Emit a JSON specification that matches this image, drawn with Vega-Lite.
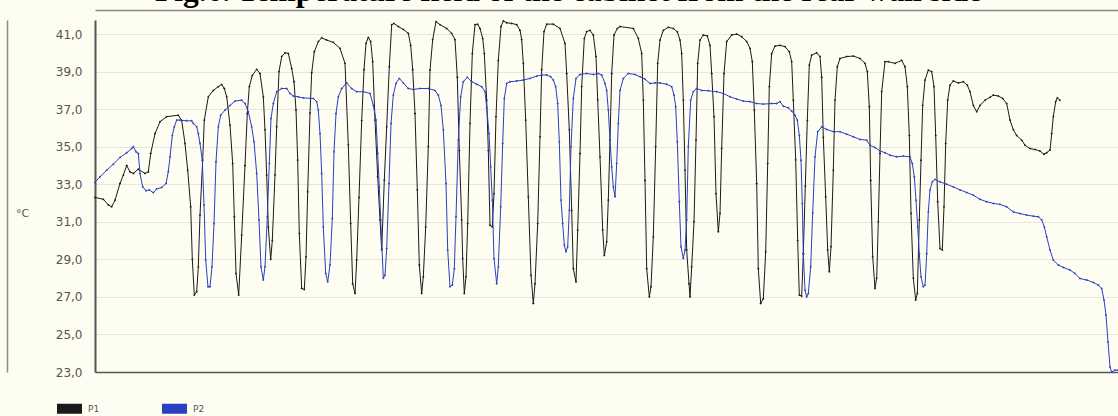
{
"$schema": "https://vega.github.io/schema/vega-lite/v6.json",
"width": 1023, "height": 352,
"autosize": {"type": "none"},
"padding": {"left": 95, "top": 20, "right": 0, "bottom": 44},
"background": "#fdfdf2",
"config": {
  "locale": {"number": {"decimal": ",", "thousands": ".", "grouping": [3], "currency": ["", ""]}},
  "view": {"stroke": null},
  "font": "DejaVu Sans"
},
"title": {"text": "Fig.6. Temperature field of the cabinet from the rear wall side", "font": "Liberation Serif", "fontSize": 31.5, "fontWeight": "bold", "color": "#000000", "anchor": "middle", "frame": "group", "dx": -38, "dy": 14, "baseline": "alphabetic", "offset": -8},
"data": {"values": [
{"s":"P1","t":0,"v":32.3},{"s":"P1","t":8.3,"v":32.2},{"s":"P1","t":13.3,"v":31.9},{"s":"P1","t":16.7,"v":31.8},{"s":"P1","t":20,"v":32.15},{"s":"P1","t":25,"v":33.04},{"s":"P1","t":28.3,"v":33.49},{"s":"P1","t":31.7,"v":34.0},{"s":"P1","t":35,"v":33.66},{"s":"P1","t":38.3,"v":33.58},{"s":"P1","t":43.3,"v":33.8},{"s":"P1","t":50,"v":33.58},{"s":"P1","t":53.3,"v":33.66},{"s":"P1","t":55.7,"v":34.64},{"s":"P1","t":60,"v":35.7},{"s":"P1","t":65,"v":36.33},{"s":"P1","t":71.7,"v":36.6},{"s":"P1","t":83.3,"v":36.68},{"s":"P1","t":86.7,"v":36.4},{"s":"P1","t":90,"v":35.17},{"s":"P1","t":92.7,"v":33.75},{"s":"P1","t":95.7,"v":31.8},{"s":"P1","t":97.3,"v":29.0},{"s":"P1","t":99.3,"v":27.1},{"s":"P1","t":101.7,"v":27.27},{"s":"P1","t":103.3,"v":28.6},{"s":"P1","t":105,"v":31.36},{"s":"P1","t":107.7,"v":34.29},{"s":"P1","t":109.3,"v":36.42},{"s":"P1","t":113.3,"v":37.66},{"s":"P1","t":118.3,"v":38.0},{"s":"P1","t":123.3,"v":38.2},{"s":"P1","t":126.7,"v":38.32},{"s":"P1","t":129.3,"v":38.1},{"s":"P1","t":131.7,"v":37.66},{"s":"P1","t":135,"v":36.15},{"s":"P1","t":137.7,"v":34.1},{"s":"P1","t":139.3,"v":31.27},{"s":"P1","t":141,"v":28.25},{"s":"P1","t":143.7,"v":27.1},{"s":"P1","t":146.7,"v":30.29},{"s":"P1","t":150,"v":34.0},{"s":"P1","t":152.3,"v":36.77},{"s":"P1","t":154.3,"v":38.2},{"s":"P1","t":157.3,"v":38.8},{"s":"P1","t":161.7,"v":39.12},{"s":"P1","t":165,"v":38.9},{"s":"P1","t":168.3,"v":37.66},{"s":"P1","t":170,"v":35.9},{"s":"P1","t":171.7,"v":33.49},{"s":"P1","t":173.3,"v":30.73},{"s":"P1","t":175.7,"v":29.0},{"s":"P1","t":177.3,"v":30.0},{"s":"P1","t":180,"v":33.5},{"s":"P1","t":181.7,"v":36.06},{"s":"P1","t":184,"v":39.0},{"s":"P1","t":186.7,"v":39.8},{"s":"P1","t":190,"v":40.0},{"s":"P1","t":193.3,"v":39.97},{"s":"P1","t":196.7,"v":39.17},{"s":"P1","t":199,"v":38.46},{"s":"P1","t":201,"v":36.95},{"s":"P1","t":202.7,"v":34.29},{"s":"P1","t":204.3,"v":30.38},{"s":"P1","t":206.7,"v":27.45},{"s":"P1","t":209.3,"v":27.4},{"s":"P1","t":211,"v":29.13},{"s":"P1","t":212.7,"v":32.6},{"s":"P1","t":215,"v":36.8},{"s":"P1","t":216.7,"v":38.94},{"s":"P1","t":219.3,"v":40.06},{"s":"P1","t":223.3,"v":40.6},{"s":"P1","t":226.7,"v":40.8},{"s":"P1","t":231.7,"v":40.68},{"s":"P1","t":238.3,"v":40.56},{"s":"P1","t":245,"v":40.24},{"s":"P1","t":250,"v":39.44},{"s":"P1","t":253.3,"v":35.1},{"s":"P1","t":255.7,"v":30.9},{"s":"P1","t":257.7,"v":27.7},{"s":"P1","t":260,"v":27.18},{"s":"P1","t":261.7,"v":28.96},{"s":"P1","t":264,"v":32.3},{"s":"P1","t":266.7,"v":36.4},{"s":"P1","t":269,"v":39.1},{"s":"P1","t":271,"v":40.5},{"s":"P1","t":273.3,"v":40.82},{"s":"P1","t":275.7,"v":40.6},{"s":"P1","t":277.7,"v":39.53},{"s":"P1","t":280,"v":36.42},{"s":"P1","t":282.7,"v":33.4},{"s":"P1","t":285,"v":31.1},{"s":"P1","t":286.7,"v":29.5},{"s":"P1","t":289.3,"v":33.22},{"s":"P1","t":291.7,"v":36.06},{"s":"P1","t":294.3,"v":39.26},{"s":"P1","t":296.7,"v":41.5},{"s":"P1","t":299,"v":41.57},{"s":"P1","t":303.3,"v":41.4},{"s":"P1","t":308.3,"v":41.25},{"s":"P1","t":313.3,"v":41.04},{"s":"P1","t":315.7,"v":40.4},{"s":"P1","t":317.7,"v":39.1},{"s":"P1","t":320,"v":36.77},{"s":"P1","t":322.3,"v":32.7},{"s":"P1","t":324.3,"v":28.7},{"s":"P1","t":326.7,"v":27.18},{"s":"P1","t":328.3,"v":28.07},{"s":"P1","t":330.7,"v":30.73},{"s":"P1","t":333.3,"v":35.0},{"s":"P1","t":335,"v":39.08},{"s":"P1","t":337.7,"v":40.7},{"s":"P1","t":341,"v":41.66},{"s":"P1","t":345,"v":41.5},{"s":"P1","t":351.7,"v":41.3},{"s":"P1","t":356.7,"v":41.04},{"s":"P1","t":360,"v":40.7},{"s":"P1","t":362.3,"v":38.7},{"s":"P1","t":364.3,"v":34.8},{"s":"P1","t":366.7,"v":31.1},{"s":"P1","t":367.7,"v":29.05},{"s":"P1","t":369.3,"v":27.18},{"s":"P1","t":371,"v":28.07},{"s":"P1","t":372.7,"v":30.9},{"s":"P1","t":375,"v":36.24},{"s":"P1","t":377.3,"v":39.97},{"s":"P1","t":380,"v":41.5},{"s":"P1","t":382.7,"v":41.53},{"s":"P1","t":385,"v":41.3},{"s":"P1","t":387.7,"v":40.77},{"s":"P1","t":389.3,"v":39.97},{"s":"P1","t":391.7,"v":37.48},{"s":"P1","t":393.3,"v":34.8},{"s":"P1","t":395,"v":30.82},{"s":"P1","t":397.3,"v":30.73},{"s":"P1","t":399,"v":32.5},{"s":"P1","t":401,"v":36.6},{"s":"P1","t":403.3,"v":39.6},{"s":"P1","t":406,"v":41.4},{"s":"P1","t":408.3,"v":41.7},{"s":"P1","t":411.7,"v":41.6},{"s":"P1","t":416.7,"v":41.57},{"s":"P1","t":421.7,"v":41.5},{"s":"P1","t":425,"v":41.2},{"s":"P1","t":426.7,"v":40.7},{"s":"P1","t":428.3,"v":39.44},{"s":"P1","t":430.7,"v":36.42},{"s":"P1","t":433.3,"v":32.33},{"s":"P1","t":436,"v":28.16},{"s":"P1","t":438.3,"v":26.65},{"s":"P1","t":440,"v":27.7},{"s":"P1","t":442.7,"v":30.9},{"s":"P1","t":445,"v":35.53},{"s":"P1","t":446.7,"v":39.1},{"s":"P1","t":449,"v":41.13},{"s":"P1","t":451.7,"v":41.53},{"s":"P1","t":458.3,"v":41.53},{"s":"P1","t":465,"v":41.3},{"s":"P1","t":470,"v":40.5},{"s":"P1","t":471.7,"v":38.9},{"s":"P1","t":474.3,"v":35.9},{"s":"P1","t":476.7,"v":31.6},{"s":"P1","t":478.3,"v":28.5},{"s":"P1","t":481,"v":27.8},{"s":"P1","t":482.7,"v":30.56},{"s":"P1","t":485,"v":34.64},{"s":"P1","t":486.7,"v":38.2},{"s":"P1","t":489.3,"v":40.77},{"s":"P1","t":491.7,"v":41.13},{"s":"P1","t":495,"v":41.2},{"s":"P1","t":498.3,"v":40.95},{"s":"P1","t":501,"v":39.8},{"s":"P1","t":502.7,"v":37.5},{"s":"P1","t":505,"v":34.46},{"s":"P1","t":507.7,"v":30.56},{"s":"P1","t":509.3,"v":29.2},{"s":"P1","t":511.7,"v":29.93},{"s":"P1","t":513.3,"v":32.15},{"s":"P1","t":515,"v":35.35},{"s":"P1","t":516.7,"v":38.9},{"s":"P1","t":519,"v":40.95},{"s":"P1","t":522.3,"v":41.3},{"s":"P1","t":525,"v":41.4},{"s":"P1","t":538.3,"v":41.3},{"s":"P1","t":543.3,"v":40.77},{"s":"P1","t":546.7,"v":39.97},{"s":"P1","t":548.3,"v":37.48},{"s":"P1","t":550,"v":33.2},{"s":"P1","t":551.7,"v":28.5},{"s":"P1","t":554.3,"v":27.0},{"s":"P1","t":556,"v":27.54},{"s":"P1","t":558.3,"v":30.2},{"s":"P1","t":560.7,"v":35.0},{"s":"P1","t":562.7,"v":39.44},{"s":"P1","t":565,"v":40.68},{"s":"P1","t":568.3,"v":41.2},{"s":"P1","t":573.3,"v":41.36},{"s":"P1","t":578.3,"v":41.3},{"s":"P1","t":582.3,"v":41.12},{"s":"P1","t":585,"v":40.68},{"s":"P1","t":586.7,"v":39.97},{"s":"P1","t":588.3,"v":37.48},{"s":"P1","t":590,"v":33.75},{"s":"P1","t":591.7,"v":29.5},{"s":"P1","t":594,"v":27.7},{"s":"P1","t":595,"v":27.0},{"s":"P1","t":596.7,"v":28.6},{"s":"P1","t":599,"v":31.0},{"s":"P1","t":601,"v":35.35},{"s":"P1","t":602.7,"v":39.44},{"s":"P1","t":605,"v":40.68},{"s":"P1","t":608.3,"v":40.95},{"s":"P1","t":612.3,"v":40.9},{"s":"P1","t":615,"v":40.4},{"s":"P1","t":616.7,"v":38.9},{"s":"P1","t":619,"v":36.6},{"s":"P1","t":621,"v":32.5},{"s":"P1","t":623.3,"v":30.47},{"s":"P1","t":625,"v":31.45},{"s":"P1","t":626.7,"v":34.9},{"s":"P1","t":629,"v":38.9},{"s":"P1","t":631.7,"v":40.6},{"s":"P1","t":636.7,"v":40.95},{"s":"P1","t":641.7,"v":41.0},{"s":"P1","t":646.7,"v":40.86},{"s":"P1","t":651.7,"v":40.6},{"s":"P1","t":655,"v":40.24},{"s":"P1","t":657.3,"v":39.53},{"s":"P1","t":659.3,"v":36.95},{"s":"P1","t":661.7,"v":33.04},{"s":"P1","t":663.3,"v":28.5},{"s":"P1","t":665.7,"v":26.65},{"s":"P1","t":668.3,"v":26.9},{"s":"P1","t":670.7,"v":29.4},{"s":"P1","t":672.7,"v":34.1},{"s":"P1","t":674.3,"v":38.2},{"s":"P1","t":676.7,"v":39.97},{"s":"P1","t":680,"v":40.36},{"s":"P1","t":685,"v":40.4},{"s":"P1","t":690,"v":40.33},{"s":"P1","t":694.3,"v":40.06},{"s":"P1","t":696.7,"v":39.53},{"s":"P1","t":698.3,"v":37.48},{"s":"P1","t":700.7,"v":34.3},{"s":"P1","t":702.7,"v":30.0},{"s":"P1","t":704.3,"v":27.1},{"s":"P1","t":706.7,"v":27.04},{"s":"P1","t":708.3,"v":29.3},{"s":"P1","t":710.3,"v":32.9},{"s":"P1","t":712.3,"v":36.4},{"s":"P1","t":714.3,"v":39.35},{"s":"P1","t":716.7,"v":39.88},{"s":"P1","t":721.7,"v":40.0},{"s":"P1","t":725,"v":39.8},{"s":"P1","t":726.7,"v":38.7},{"s":"P1","t":728.3,"v":35.5},{"s":"P1","t":730.7,"v":32.33},{"s":"P1","t":732.7,"v":29.5},{"s":"P1","t":734.3,"v":28.34},{"s":"P1","t":736,"v":29.67},{"s":"P1","t":738.3,"v":33.75},{"s":"P1","t":740,"v":37.48},{"s":"P1","t":742.3,"v":39.26},{"s":"P1","t":745,"v":39.7},{"s":"P1","t":751.7,"v":39.8},{"s":"P1","t":758.3,"v":39.83},{"s":"P1","t":765,"v":39.7},{"s":"P1","t":770,"v":39.44},{"s":"P1","t":772.3,"v":39.0},{"s":"P1","t":774.3,"v":37.13},{"s":"P1","t":775.7,"v":33.2},{"s":"P1","t":777.7,"v":29.13},{"s":"P1","t":780,"v":27.45},{"s":"P1","t":781.7,"v":28.0},{"s":"P1","t":783.3,"v":31.0},{"s":"P1","t":785,"v":34.64},{"s":"P1","t":786.7,"v":37.93},{"s":"P1","t":790,"v":39.53},{"s":"P1","t":793.3,"v":39.53},{"s":"P1","t":800,"v":39.44},{"s":"P1","t":806.7,"v":39.6},{"s":"P1","t":810,"v":39.26},{"s":"P1","t":812.3,"v":38.2},{"s":"P1","t":814.3,"v":35.6},{"s":"P1","t":816,"v":31.45},{"s":"P1","t":818.3,"v":28.0},{"s":"P1","t":820.7,"v":26.83},{"s":"P1","t":822.3,"v":27.18},{"s":"P1","t":824.3,"v":31.1},{"s":"P1","t":826,"v":34.28},{"s":"P1","t":827.7,"v":37.2},{"s":"P1","t":830,"v":38.55},{"s":"P1","t":833.3,"v":39.08},{"s":"P1","t":836.7,"v":39.0},{"s":"P1","t":839,"v":38.2},{"s":"P1","t":840.7,"v":35.6},{"s":"P1","t":842.7,"v":32.07},{"s":"P1","t":845,"v":29.58},{"s":"P1","t":847.3,"v":29.5},{"s":"P1","t":849,"v":31.8},{"s":"P1","t":850.7,"v":35.17},{"s":"P1","t":852.7,"v":37.48},{"s":"P1","t":855,"v":38.28},{"s":"P1","t":858.3,"v":38.5},{"s":"P1","t":863.3,"v":38.4},{"s":"P1","t":868.3,"v":38.46},{"s":"P1","t":872.3,"v":38.28},{"s":"P1","t":875,"v":37.93},{"s":"P1","t":878.3,"v":37.2},{"s":"P1","t":881.7,"v":36.86},{"s":"P1","t":885,"v":37.2},{"s":"P1","t":890,"v":37.48},{"s":"P1","t":895,"v":37.63},{"s":"P1","t":898.3,"v":37.75},{"s":"P1","t":903.3,"v":37.7},{"s":"P1","t":907.7,"v":37.57},{"s":"P1","t":911.7,"v":37.3},{"s":"P1","t":915,"v":36.42},{"s":"P1","t":918.3,"v":35.9},{"s":"P1","t":921.7,"v":35.6},{"s":"P1","t":926.7,"v":35.35},{"s":"P1","t":930,"v":35.08},{"s":"P1","t":935,"v":34.9},{"s":"P1","t":940,"v":34.85},{"s":"P1","t":945,"v":34.77},{"s":"P1","t":949,"v":34.6},{"s":"P1","t":951.7,"v":34.68},{"s":"P1","t":955,"v":34.82},{"s":"P1","t":956.7,"v":35.7},{"s":"P1","t":958.3,"v":36.6},{"s":"P1","t":960.7,"v":37.4},{"s":"P1","t":962.3,"v":37.6},{"s":"P1","t":965,"v":37.48},
{"s":"P2","t":0,"v":33.1},{"s":"P2","t":5,"v":33.4},{"s":"P2","t":11.7,"v":33.75},{"s":"P2","t":18.3,"v":34.07},{"s":"P2","t":25,"v":34.43},{"s":"P2","t":31.7,"v":34.68},{"s":"P2","t":36.7,"v":34.9},{"s":"P2","t":38.3,"v":35.0},{"s":"P2","t":41,"v":34.73},{"s":"P2","t":43.3,"v":34.64},{"s":"P2","t":45,"v":33.57},{"s":"P2","t":47.7,"v":32.87},{"s":"P2","t":51,"v":32.65},{"s":"P2","t":54.3,"v":32.7},{"s":"P2","t":58.3,"v":32.55},{"s":"P2","t":61.7,"v":32.75},{"s":"P2","t":66.7,"v":32.83},{"s":"P2","t":71,"v":33.04},{"s":"P2","t":73.3,"v":33.67},{"s":"P2","t":75,"v":34.46},{"s":"P2","t":77.3,"v":35.6},{"s":"P2","t":79.3,"v":36.06},{"s":"P2","t":81.7,"v":36.42},{"s":"P2","t":85,"v":36.42},{"s":"P2","t":91.7,"v":36.38},{"s":"P2","t":96.7,"v":36.38},{"s":"P2","t":98.3,"v":36.24},{"s":"P2","t":101.7,"v":36.06},{"s":"P2","t":103.3,"v":35.7},{"s":"P2","t":105,"v":35.17},{"s":"P2","t":107.3,"v":34.28},{"s":"P2","t":109,"v":31.9},{"s":"P2","t":110.7,"v":28.97},{"s":"P2","t":113,"v":27.54},{"s":"P2","t":115,"v":27.54},{"s":"P2","t":117,"v":28.6},{"s":"P2","t":119,"v":30.9},{"s":"P2","t":121,"v":34.2},{"s":"P2","t":123.3,"v":36.06},{"s":"P2","t":125.7,"v":36.68},{"s":"P2","t":130,"v":36.95},{"s":"P2","t":135,"v":37.2},{"s":"P2","t":140,"v":37.43},{"s":"P2","t":146.7,"v":37.48},{"s":"P2","t":150,"v":37.3},{"s":"P2","t":153.3,"v":36.86},{"s":"P2","t":156.7,"v":36.06},{"s":"P2","t":159,"v":35.26},{"s":"P2","t":161.7,"v":33.58},{"s":"P2","t":164,"v":31.1},{"s":"P2","t":166,"v":28.6},{"s":"P2","t":168.3,"v":27.9},{"s":"P2","t":170,"v":28.6},{"s":"P2","t":172.3,"v":31.27},{"s":"P2","t":174.3,"v":34.1},{"s":"P2","t":176,"v":36.5},{"s":"P2","t":178.3,"v":37.3},{"s":"P2","t":181.7,"v":37.93},{"s":"P2","t":186.7,"v":38.1},{"s":"P2","t":191.7,"v":38.1},{"s":"P2","t":195,"v":37.84},{"s":"P2","t":198.3,"v":37.7},{"s":"P2","t":203.3,"v":37.66},{"s":"P2","t":208.3,"v":37.6},{"s":"P2","t":218.3,"v":37.57},{"s":"P2","t":221.7,"v":37.4},{"s":"P2","t":223.3,"v":36.95},{"s":"P2","t":225,"v":35.7},{"s":"P2","t":226.7,"v":33.57},{"s":"P2","t":228.3,"v":30.73},{"s":"P2","t":230.7,"v":28.25},{"s":"P2","t":232.7,"v":27.8},{"s":"P2","t":235,"v":28.7},{"s":"P2","t":237.3,"v":31.18},{"s":"P2","t":239,"v":34.73},{"s":"P2","t":241,"v":36.77},{"s":"P2","t":243.3,"v":37.66},{"s":"P2","t":246.7,"v":38.1},{"s":"P2","t":251.7,"v":38.4},{"s":"P2","t":256.7,"v":38.1},{"s":"P2","t":261.7,"v":37.93},{"s":"P2","t":268.3,"v":37.93},{"s":"P2","t":275,"v":37.84},{"s":"P2","t":278.3,"v":37.2},{"s":"P2","t":281,"v":36.42},{"s":"P2","t":282.7,"v":34.64},{"s":"P2","t":284.3,"v":32.86},{"s":"P2","t":285.7,"v":31.1},{"s":"P2","t":288.3,"v":28.0},{"s":"P2","t":290,"v":28.16},{"s":"P2","t":291.7,"v":29.58},{"s":"P2","t":294,"v":33.04},{"s":"P2","t":296,"v":36.24},{"s":"P2","t":298.3,"v":37.75},{"s":"P2","t":301,"v":38.37},{"s":"P2","t":304.3,"v":38.64},{"s":"P2","t":308.3,"v":38.4},{"s":"P2","t":313.3,"v":38.1},{"s":"P2","t":318.3,"v":38.05},{"s":"P2","t":325,"v":38.1},{"s":"P2","t":333.3,"v":38.1},{"s":"P2","t":340,"v":38.0},{"s":"P2","t":343.3,"v":37.75},{"s":"P2","t":346,"v":37.2},{"s":"P2","t":348.3,"v":35.9},{"s":"P2","t":351,"v":33.04},{"s":"P2","t":352.7,"v":29.5},{"s":"P2","t":355,"v":27.54},{"s":"P2","t":357.3,"v":27.63},{"s":"P2","t":359.3,"v":28.5},{"s":"P2","t":361,"v":31.27},{"s":"P2","t":363.3,"v":35.35},{"s":"P2","t":365.7,"v":37.66},{"s":"P2","t":368.3,"v":38.46},{"s":"P2","t":372.3,"v":38.7},{"s":"P2","t":376.7,"v":38.46},{"s":"P2","t":381.7,"v":38.33},{"s":"P2","t":386.7,"v":38.2},{"s":"P2","t":390,"v":37.93},{"s":"P2","t":391.7,"v":37.1},{"s":"P2","t":394,"v":35.7},{"s":"P2","t":395.7,"v":33.93},{"s":"P2","t":397.3,"v":32.15},{"s":"P2","t":399,"v":29.05},{"s":"P2","t":401.7,"v":27.7},{"s":"P2","t":403.3,"v":28.6},{"s":"P2","t":405.7,"v":31.8},{"s":"P2","t":407.7,"v":35.17},{"s":"P2","t":409.3,"v":37.57},{"s":"P2","t":411.7,"v":38.37},{"s":"P2","t":415,"v":38.46},{"s":"P2","t":421.7,"v":38.5},{"s":"P2","t":428.3,"v":38.55},{"s":"P2","t":435,"v":38.64},{"s":"P2","t":441.7,"v":38.76},{"s":"P2","t":446.7,"v":38.82},{"s":"P2","t":451.7,"v":38.82},{"s":"P2","t":455.7,"v":38.73},{"s":"P2","t":458.3,"v":38.55},{"s":"P2","t":460.7,"v":38.2},{"s":"P2","t":462.7,"v":37.3},{"s":"P2","t":464.3,"v":35.26},{"s":"P2","t":466,"v":32.15},{"s":"P2","t":467.7,"v":30.9},{"s":"P2","t":469.3,"v":29.76},{"s":"P2","t":471,"v":29.4},{"s":"P2","t":472.7,"v":29.67},{"s":"P2","t":474.3,"v":31.62},{"s":"P2","t":476,"v":35.0},{"s":"P2","t":478.3,"v":37.57},{"s":"P2","t":481,"v":38.64},{"s":"P2","t":485,"v":38.85},{"s":"P2","t":491.7,"v":38.9},{"s":"P2","t":498.3,"v":38.85},{"s":"P2","t":503.3,"v":38.9},{"s":"P2","t":506.7,"v":38.82},{"s":"P2","t":510,"v":38.37},{"s":"P2","t":511.7,"v":38.0},{"s":"P2","t":513.3,"v":36.95},{"s":"P2","t":515,"v":35.35},{"s":"P2","t":516.7,"v":33.93},{"s":"P2","t":518.3,"v":32.86},{"s":"P2","t":520,"v":32.33},{"s":"P2","t":521.7,"v":34.1},{"s":"P2","t":523.3,"v":36.24},{"s":"P2","t":525,"v":38.0},{"s":"P2","t":528.3,"v":38.64},{"s":"P2","t":533.3,"v":38.9},{"s":"P2","t":540,"v":38.85},{"s":"P2","t":545,"v":38.73},{"s":"P2","t":550,"v":38.6},{"s":"P2","t":555,"v":38.37},{"s":"P2","t":560,"v":38.4},{"s":"P2","t":565,"v":38.4},{"s":"P2","t":571.7,"v":38.33},{"s":"P2","t":576.7,"v":38.2},{"s":"P2","t":579,"v":37.75},{"s":"P2","t":580.7,"v":37.13},{"s":"P2","t":582.3,"v":35.26},{"s":"P2","t":584.3,"v":32.07},{"s":"P2","t":586,"v":29.67},{"s":"P2","t":588.3,"v":29.05},{"s":"P2","t":590,"v":29.5},{"s":"P2","t":591.7,"v":31.1},{"s":"P2","t":593.3,"v":35.0},{"s":"P2","t":595.7,"v":37.48},{"s":"P2","t":598.3,"v":37.93},{"s":"P2","t":601.7,"v":38.1},{"s":"P2","t":606.7,"v":38.0},{"s":"P2","t":613.3,"v":37.98},{"s":"P2","t":621.7,"v":37.93},{"s":"P2","t":628.3,"v":37.84},{"s":"P2","t":635,"v":37.66},{"s":"P2","t":641.7,"v":37.54},{"s":"P2","t":648.3,"v":37.43},{"s":"P2","t":655,"v":37.4},{"s":"P2","t":661.7,"v":37.3},{"s":"P2","t":668.3,"v":37.27},{"s":"P2","t":676.7,"v":37.3},{"s":"P2","t":681.7,"v":37.3},{"s":"P2","t":685,"v":37.4},{"s":"P2","t":688.3,"v":37.16},{"s":"P2","t":693.3,"v":37.07},{"s":"P2","t":696.7,"v":36.9},{"s":"P2","t":700,"v":36.68},{"s":"P2","t":702.3,"v":36.42},{"s":"P2","t":704.3,"v":35.6},{"s":"P2","t":706,"v":34.28},{"s":"P2","t":707.3,"v":31.98},{"s":"P2","t":708.3,"v":29.3},{"s":"P2","t":710,"v":27.36},{"s":"P2","t":711.7,"v":27.0},{"s":"P2","t":713.3,"v":27.18},{"s":"P2","t":715.7,"v":28.6},{"s":"P2","t":717.7,"v":31.48},{"s":"P2","t":720,"v":34.46},{"s":"P2","t":722.7,"v":35.8},{"s":"P2","t":726.7,"v":36.06},{"s":"P2","t":731.7,"v":35.92},{"s":"P2","t":738.3,"v":35.8},{"s":"P2","t":745,"v":35.8},{"s":"P2","t":751.7,"v":35.67},{"s":"P2","t":758.3,"v":35.53},{"s":"P2","t":765,"v":35.39},{"s":"P2","t":771.7,"v":35.35},{"s":"P2","t":775,"v":35.08},{"s":"P2","t":780,"v":34.96},{"s":"P2","t":785,"v":34.78},{"s":"P2","t":790,"v":34.68},{"s":"P2","t":795,"v":34.55},{"s":"P2","t":801.7,"v":34.46},{"s":"P2","t":808.3,"v":34.5},{"s":"P2","t":815,"v":34.46},{"s":"P2","t":817.3,"v":34.1},{"s":"P2","t":819.3,"v":33.4},{"s":"P2","t":821,"v":32.15},{"s":"P2","t":822.7,"v":30.73},{"s":"P2","t":824.3,"v":29.3},{"s":"P2","t":826,"v":28.07},{"s":"P2","t":828.3,"v":27.54},{"s":"P2","t":830,"v":27.63},{"s":"P2","t":831.7,"v":29.3},{"s":"P2","t":833.3,"v":31.53},{"s":"P2","t":835,"v":32.7},{"s":"P2","t":837.3,"v":33.13},{"s":"P2","t":840,"v":33.26},{"s":"P2","t":845,"v":33.13},{"s":"P2","t":851.7,"v":33.0},{"s":"P2","t":858.3,"v":32.86},{"s":"P2","t":865,"v":32.7},{"s":"P2","t":871.7,"v":32.56},{"s":"P2","t":878.3,"v":32.42},{"s":"P2","t":885,"v":32.2},{"s":"P2","t":891.7,"v":32.07},{"s":"P2","t":898.3,"v":31.98},{"s":"P2","t":905,"v":31.93},{"s":"P2","t":911.7,"v":31.8},{"s":"P2","t":918.3,"v":31.53},{"s":"P2","t":925,"v":31.44},{"s":"P2","t":931.7,"v":31.36},{"s":"P2","t":938.3,"v":31.3},{"s":"P2","t":943.3,"v":31.27},{"s":"P2","t":946.7,"v":31.1},{"s":"P2","t":949.3,"v":30.73},{"s":"P2","t":951.7,"v":30.2},{"s":"P2","t":955,"v":29.5},{"s":"P2","t":958.3,"v":28.96},{"s":"P2","t":963.3,"v":28.7},{"s":"P2","t":968.3,"v":28.57},{"s":"P2","t":975,"v":28.43},{"s":"P2","t":980,"v":28.25},{"s":"P2","t":985,"v":27.98},{"s":"P2","t":991.7,"v":27.9},{"s":"P2","t":998.3,"v":27.77},{"s":"P2","t":1003.3,"v":27.63},{"s":"P2","t":1006.7,"v":27.45},{"s":"P2","t":1009,"v":26.83},{"s":"P2","t":1011,"v":26.03},{"s":"P2","t":1013,"v":24.6},{"s":"P2","t":1015,"v":23.27},{"s":"P2","t":1016.7,"v":23.0},{"s":"P2","t":1020,"v":23.1},{"s":"P2","t":1023,"v":23.1}
]},
"layer": [
 {
  "transform": [{"filter": "datum.s == 'P1'"}],
  "mark": {"type": "line", "strokeWidth": 1, "point": {"shape": "cross", "size": 4, "filled": true}},
  "encoding": {
    "x": {"field": "t", "type": "quantitative", "scale": {"domain": [0, 1023], "nice": false, "zero": false},
          "axis": {"orient": "bottom", "labels": false, "ticks": false, "grid": false, "title": null, "domainColor": "#555555", "domainWidth": 1.5}},
    "y": {"field": "v", "type": "quantitative", "scale": {"domain": [23, 41.75], "nice": false, "zero": false},
          "axis": {"values": [23,25,27,29,31,33,35,37,39,41], "format": ".1f", "grid": true, "gridColor": "#e6e6dc", "gridWidth": 1, "ticks": false, "labelPadding": 13, "labelFont": "DejaVu Sans", "labelFontSize": 12, "labelColor": "#555555", "domainColor": "#555555", "domainWidth": 2, "title": "°C", "titleAngle": 0, "titleX": -73, "titleY": 193, "titleAlign": "center", "titleBaseline": "middle", "titleFontWeight": "normal", "titleFontSize": 11, "titleFont": "DejaVu Sans", "titleColor": "#555555"}},
    "color": {"field": "s", "type": "nominal", "scale": {"domain": ["P1", "P2"], "range": ["#1a1a1a", "#2a40c0"]},
              "legend": {"orient": "none", "legendX": -43, "legendY": 371, "direction": "horizontal", "title": null, "symbolType": "stroke", "symbolSize": 625, "symbolStrokeWidth": 10, "labelFont": "DejaVu Sans", "labelFontSize": 9, "labelColor": "#555555", "labelOffset": 1, "columnPadding": 40}}
  }
 },
 {
  "transform": [{"filter": "datum.s == 'P2'"}],
  "mark": {"type": "line", "strokeWidth": 1, "point": {"shape": "cross", "size": 4, "filled": true}},
  "encoding": {
    "x": {"field": "t", "type": "quantitative",
          "axis": {"orient": "top", "offset": 10, "labels": false, "ticks": false, "grid": false, "title": null, "domainColor": "#8a8a8a", "domainWidth": 1.5}},
    "y": {"field": "v", "type": "quantitative",
          "axis": {"orient": "left", "offset": 88, "labels": false, "ticks": false, "grid": false, "title": null, "domainColor": "#8a8a8a", "domainWidth": 1.5}},
    "color": {"field": "s", "type": "nominal"}
  }
 }
],
"resolve": {"axis": {"x": "independent", "y": "independent"}}
}
